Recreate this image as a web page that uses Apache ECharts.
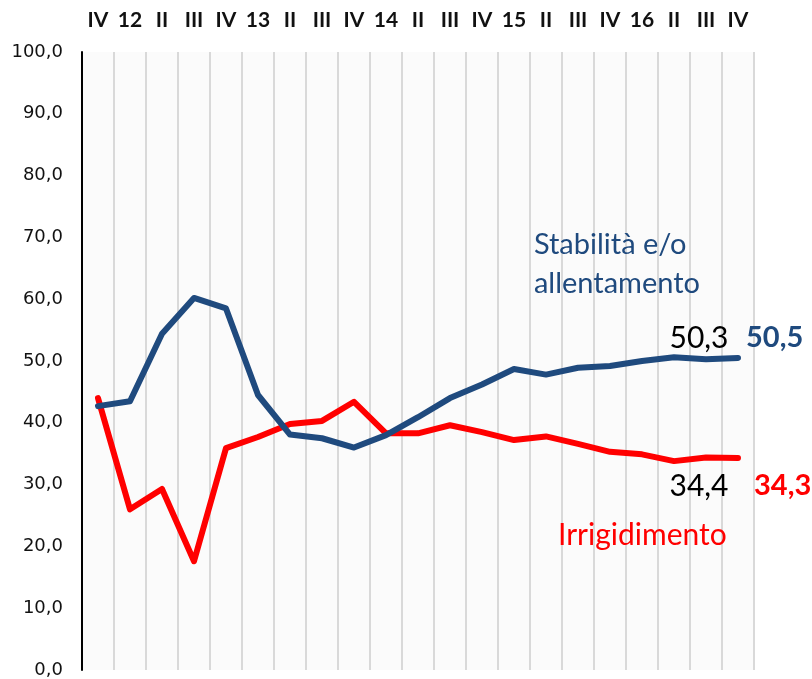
<!DOCTYPE html>
<html>
<head>
<meta charset="utf-8">
<script src="https://cdn.jsdelivr.net/npm/echarts@6/dist/echarts.min.js"></script>
<style>
  html, body { margin: 0; padding: 0; background: #ffffff; }
  #chart { width: 812px; height: 679px; }
</style>
</head>
<body>
<div id="chart"></div>
<script>
// Quarters from IV 2011 to IV 2016 (year shown on the first quarter)
const quarters = ['IV', '12', 'II', 'III', 'IV', '13', 'II', 'III', 'IV', '14', 'II',
                  'III', 'IV', '15', 'II', 'III', 'IV', '16', 'II', 'III', 'IV'];

// Share of answers (%)
const stabilita = [42.7, 43.5, 54.4, 60.2, 58.5, 44.5, 38.1, 37.5, 36.0, 38.0, 40.9,
                   44.0, 46.2, 48.7, 47.8, 48.9, 49.2, 50.0, 50.6, 50.3, 50.5];
const irrigidimento = [44.0, 26.0, 29.3, 17.6, 35.9, 37.7, 39.8, 40.3, 43.4, 38.3, 38.3,
                       39.6, 38.5, 37.2, 37.8, 36.6, 35.3, 34.9, 33.8, 34.4, 34.3];

const yTicks = { min: 0, max: 100, step: 10 };

const fmt = v => v.toFixed(1).replace('.', ',');
const blue = '#1f4a7e';
const red = '#ff0000';
const last = quarters.length - 1;

function labelled(values, color, prevPos, prevOffset, lastOffset) {
  return values.map((v, i) => {
    if (i === last - 1) {
      return { value: v, label: { show: true, position: prevPos, offset: prevOffset,
        formatter: p => fmt(p.value), color: '#000000', fontSize: 30,
        fontFamily: 'Lato', fontWeight: 'normal' } };
    }
    if (i === last) {
      return { value: v, label: { show: true, position: 'right', offset: lastOffset,
        formatter: p => fmt(p.value), color: color, fontSize: 29,
        fontFamily: 'Lato', fontWeight: 'bold' } };
    }
    return v;
  });
}

const chart = echarts.init(document.getElementById('chart'), null, { renderer: 'canvas' });
chart.setOption({
  animation: false,
  backgroundColor: '#ffffff',
  grid: { left: 82, right: 58, top: 52, bottom: 9, show: true,
          backgroundColor: '#fbfbfb', borderWidth: 0 },
  xAxis: {
    type: 'category',
    position: 'top',
    data: quarters,
    boundaryGap: true,
    axisLine: { show: false },
    axisTick: { show: false },
    axisLabel: { interval: 0, margin: 21, color: '#111111', fontSize: 21,
                 fontWeight: 'bold', fontFamily: 'Lato' },
    splitLine: { show: true, interval: 0, lineStyle: { color: '#d9d9d9', width: 2 } }
  },
  yAxis: {
    type: 'value',
    min: yTicks.min, max: yTicks.max, interval: yTicks.step,
    axisLine: { show: true, lineStyle: { color: '#000000', width: 2 } },
    axisTick: { show: false },
    splitLine: { show: false },
    axisLabel: { formatter: v => fmt(v), color: '#111111', fontSize: 18,
                 fontFamily: 'DejaVu Sans', margin: 19 }
  },
  series: [
    {
      name: 'Stabilità e/o allentamento',
      type: 'line',
      data: labelled(stabilita, blue, 'top', [-7, 0], [2, -20]),
      symbol: 'circle',
      symbolSize: 2,
      showSymbol: true,
      showAllSymbol: true,
      clip: false,
      itemStyle: { color: 'rgba(0,0,0,0)', borderWidth: 0 },
      lineStyle: { color: blue, width: 6, cap: 'round', join: 'round' },
      z: 3
    },
    {
      name: 'Irrigidimento',
      type: 'line',
      data: labelled(irrigidimento, red, 'bottom', [-7, 8], [10, 28]),
      symbol: 'circle',
      symbolSize: 2,
      showSymbol: true,
      showAllSymbol: true,
      clip: false,
      itemStyle: { color: 'rgba(0,0,0,0)', borderWidth: 0 },
      lineStyle: { color: red, width: 6, cap: 'round', join: 'round' },
      z: 2
    }
  ],
  graphic: [
    { type: 'text', right: 112, top: 225, z: 100,
      style: { text: 'Stabilità e/o\nallentamento', fill: blue, fontSize: 29,
               fontFamily: 'Lato', align: 'right', lineHeight: 39 } },
    { type: 'text', left: 558, top: 520, z: 100,
      style: { text: 'Irrigidimento', fill: red, fontSize: 30, fontFamily: 'Lato' } }
  ]
});
</script>
</body>
</html>
